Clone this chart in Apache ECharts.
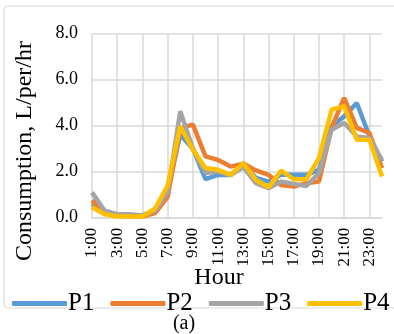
<!DOCTYPE html>
<html><head><meta charset="utf-8">
<script src="https://cdn.jsdelivr.net/npm/echarts@6/dist/echarts.min.js"></script>
<style>html,body{margin:0;padding:0;background:#fff}#c{width:394px;height:334px}</style>
</head><body><div id="c"></div>
<script>
var hours = ['1:00','2:00','3:00','4:00','5:00','6:00','7:00','8:00','9:00','10:00','11:00','12:00','13:00','14:00','15:00','16:00','17:00','18:00','19:00','20:00','21:00','22:00','23:00','24:00'];
var p1 = [0.6,0.2,0.1,0.1,0.1,0.3,1.2,3.6,3.0,1.68,1.86,1.85,2.3,1.73,1.57,1.86,1.86,1.86,2.08,3.97,4.4,4.98,3.55,2.44];
var p2 = [0.75,0.2,0.1,0.1,0.05,0.2,0.9,3.9,4.04,2.66,2.51,2.22,2.35,2.05,1.86,1.42,1.35,1.5,1.57,3.9,5.2,3.9,3.68,2.15];
var p3 = [1.1,0.3,0.15,0.15,0.1,0.3,1.1,4.62,3.0,1.95,2.0,1.85,2.2,1.5,1.28,1.57,1.47,1.38,1.93,3.82,4.11,3.53,3.46,2.5];
var p4 = [0.45,0.15,0.05,0.05,0.05,0.4,1.4,3.97,2.95,2.16,2.08,1.86,2.37,1.64,1.32,2.05,1.67,1.67,2.59,4.69,4.84,3.39,3.39,1.79];
var seriesNames = ['P1','P2','P3','P4'];
var colors = ['#5B9BD5','#ED7D31','#A5A5A5','#FFC000'];
var yTicks = [0,2,4,6,8];

var font = '"Liberation Serif","Times New Roman",serif';
var chart = echarts.init(document.getElementById('c'));
var data = [p1,p2,p3,p4];
chart.setOption({
  animation:false,
  color: colors,
  textStyle:{fontFamily:font},
  grid:{left:92,right:12,top:33.5,bottom:116.3},
  xAxis:{
    type:'category', data:hours, boundaryGap:false,
    axisLine:{lineStyle:{color:'#D9D9D9',width:1.5}},
    axisTick:{show:false},
    axisLabel:{interval:1,rotate:90,fontSize:17,color:'#000',fontFamily:font,margin:10},
    splitLine:{show:true,lineStyle:{color:'#D9D9D9',width:1.5}}
  },
  yAxis:{
    type:'value', min:yTicks[0], max:yTicks[yTicks.length-1], interval:2,
    axisLine:{show:false}, axisTick:{show:false},
    axisLabel:{fontSize:18,color:'#000',fontFamily:font,margin:14,formatter:function(v){return v.toFixed(1);}},
    splitLine:{lineStyle:{color:'#D9D9D9',width:1.5}}
  },
  legend:{
    bottom:18, left:12, width:382, padding:0, itemWidth:55, itemHeight:5, itemGap:16,
    textStyle:{fontSize:25,color:'#000',fontFamily:font,padding:[0,0,0,-4]},
    icon:'roundRect',
    data:seriesNames
  },
  graphic:[
    {type:'rect',shape:{x:4,y:6,width:420,height:302,r:4},style:{fill:'none',stroke:'#D9D9D9',lineWidth:1.2},z:-1},
    {type:'text',x:25,y:151,rotation:Math.PI/2,style:{text:'Consumption, L/per/hr',font:'24px '+font,fill:'#000',textAlign:'center',textVerticalAlign:'middle'}},
    {type:'text',x:219,y:278,style:{text:'Hour',font:'24px '+font,fill:'#000',textAlign:'center',textVerticalAlign:'middle'}},
    {type:'text',x:184,y:324,style:{text:'(a)',font:'20px '+font,fill:'#000',textAlign:'center',textVerticalAlign:'middle'}}
  ],
  series: seriesNames.map(function(n,i){
    return {name:n,type:'line',data:data[i],symbol:'none',lineStyle:{width:4.5,color:colors[i]},itemStyle:{color:colors[i]}};
  })
});
</script></body></html>
